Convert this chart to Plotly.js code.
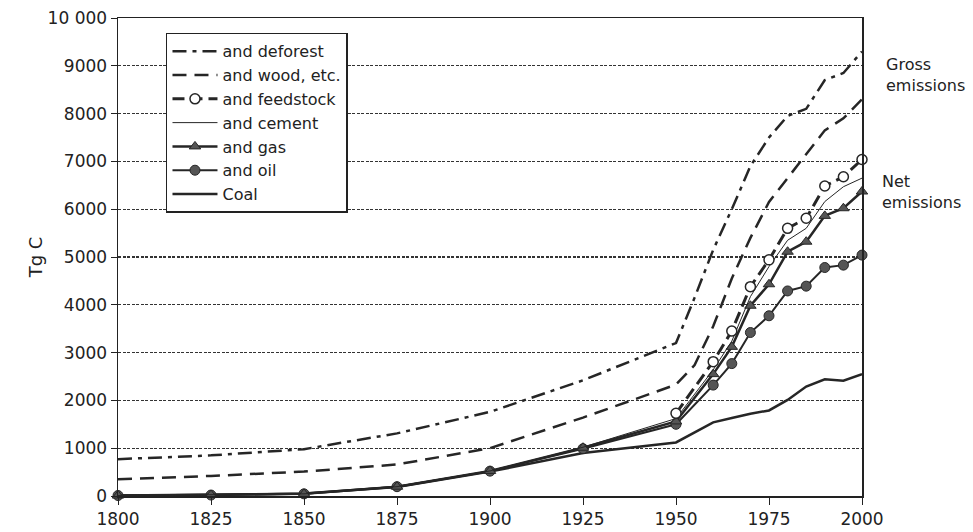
<!DOCTYPE html>
<html>
<head>
<meta charset="utf-8">
<script src="https://cdn.plot.ly/plotly-3.0.1.min.js"></script>
<style>html,body{margin:0;padding:0;background:#fff;}#chart{width:973px;height:532px;}</style>
</head>
<body>
<div id="chart"></div>
<script>
// Years with markers (net series)
const years = [1800,1825,1850,1875,1900,1925,1950,1960,1965,1970,1975,1980,1985,1990,1995,2000];
// Years for the gross (dashed) series
const yearsGross = [1800,1825,1850,1875,1900,1925,1950,1955,1960,1965,1970,1975,1980,1985,1990,1995,2000];

const coal      = [10,20,50,190,510,900,1120,1540,1630,1720,1790,2010,2290,2440,2410,2550];
const oil       = [10,20,45,195,520,990,1500,2320,2770,3420,3770,4290,4390,4780,4830,5040];
const gas       = [10,20,45,195,525,1010,1560,2550,3120,3980,4430,5110,5320,5860,6020,6370];
const cement    = [10,20,45,195,525,1020,1620,2640,3240,4170,4800,5350,5600,6160,6470,6650];
const feedstock = [null,null,null,null,null,null,1730,2810,3450,4380,4940,5600,5810,6485,6680,7040];
const wood      = [350,420,510,660,1000,1640,2330,2740,3550,4550,5400,6150,6650,7150,7650,7900,8300];
const deforest  = [770,850,980,1310,1760,2420,3200,4150,5150,6000,6900,7500,7950,8100,8700,8850,9300];

const xTicks = [1800,1825,1850,1875,1900,1925,1950,1975,2000];
const yTicks = [0,1000,2000,3000,4000,5000,6000,7000,8000,9000,10000];
const yTickText = ['0','1000','2000','3000','4000','5000','6000','7000','8000','9000','10 000'];

const dark = '#262626';
const fill = '#555555';

const traces = [
  {name:'Coal', x:years, y:coal, mode:'lines', line:{color:dark, width:2.5}},
  {name:'and oil', x:years, y:oil, mode:'lines+markers', line:{color:dark, width:2},
   marker:{symbol:'circle', size:10, color:fill, line:{color:dark, width:1}}},
  {name:'and gas', x:years, y:gas, mode:'lines+markers', line:{color:dark, width:2.5},
   marker:{symbol:'triangle-up', size:10, color:fill, line:{color:dark, width:1}}},
  {name:'and cement', x:years, y:cement, mode:'lines', line:{color:dark, width:1}},
  {name:'and feedstock', x:years, y:feedstock, mode:'lines+markers', line:{color:dark, width:3, dash:'12px,6px'},
   marker:{symbol:'circle', size:10, color:'#ffffff', line:{color:dark, width:1.5}}},
  {name:'and wood, etc.', x:yearsGross, y:wood, mode:'lines', line:{color:dark, width:2.5, dash:'14px,8px'}},
  {name:'and deforest', x:yearsGross, y:deforest, mode:'lines', line:{color:dark, width:2.5, dash:'14px,6px,4px,6px'}}
].map(t => Object.assign(t, {cliponaxis:false, hoverinfo:'skip'}));

const fam = 'DejaVu Sans, Liberation Sans, Arial, sans-serif';
const font = {family:fam, color:'#222', size:18};

const layout = {
  width:973, height:532,
  margin:{l:118, r:111, t:18, b:36},
  paper_bgcolor:'#fff', plot_bgcolor:'#fff',
  font:font,
  showlegend:true,
  legend:{
    x:0.0645, y:0.969, xanchor:'left', yanchor:'top',
    traceorder:'reversed',
    bgcolor:'#fff', bordercolor:'#222', borderwidth:1.5,
    font:{family:fam, size:16, color:'#222'},
    itemwidth:45
  },
  xaxis:{
    range:[1800,2000], tickvals:xTicks, ticks:'outside', ticklen:7, tickcolor:'#222',
    showline:true, linecolor:'#222', linewidth:1.5, mirror:true,
    showgrid:false, zeroline:false, tickfont:{family:fam, size:17}
  },
  yaxis:{
    range:[0,10000], tickvals:yTicks, ticktext:yTickText, ticks:'outside', ticklen:6, tickcolor:'#222',
    showline:true, linecolor:'#222', linewidth:1.5, mirror:true,
    showgrid:true, gridcolor:'#333', gridwidth:1.2, griddash:'3px,1.5px',
    zeroline:false, tickfont:{family:fam, size:17},
    title:{text:'Tg C', font:{family:fam, size:18}, standoff:0}
  },
  annotations:[
    {xref:'paper', yref:'y', x:1.03, y:8800, xanchor:'left', yanchor:'middle', align:'left',
     text:'Gross<br>emissions', showarrow:false, font:{family:fam, size:16}},
    {xref:'paper', yref:'y', x:1.024, y:6360, xanchor:'left', yanchor:'middle', align:'left',
     text:'Net<br>emissions', showarrow:false, font:{family:fam, size:16}}
  ]
};

Plotly.newPlot('chart', traces, layout, {displayModeBar:false, staticPlot:true});
</script>
</body>
</html>
